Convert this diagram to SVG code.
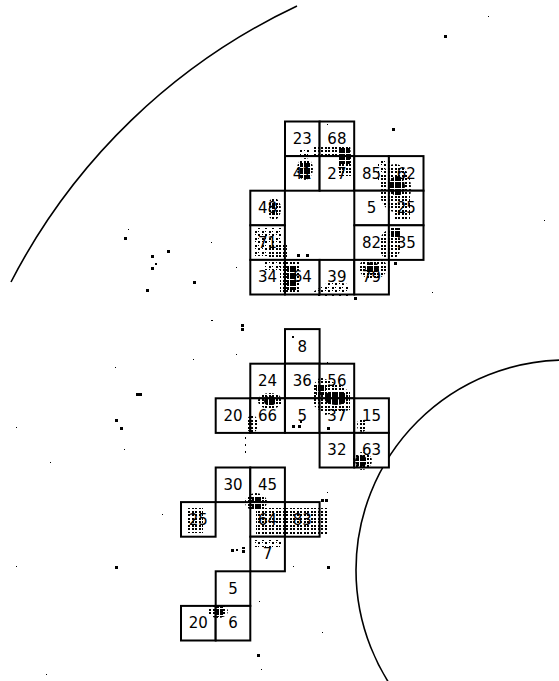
<svg xmlns="http://www.w3.org/2000/svg" width="559" height="681" viewBox="0 0 559 681">
<style>
.cell rect{fill:#fff;stroke:#000;stroke-width:2}
.cell text{font-family:"DejaVu Sans",sans-serif;font-size:15px;fill:#000;text-anchor:middle}
.arc{fill:none;stroke:#000;stroke-width:1.6}
.d{fill:#000}
pattern rect{shape-rendering:crispEdges}
#dots rect{shape-rendering:crispEdges}
</style>
<defs>
<pattern id="pS" patternUnits="userSpaceOnUse" x="181" y="122" width="7" height="7"><rect x="0" y="0" width="2" height="2" fill="#000"/><rect x="4" y="4" width="2" height="2" fill="#000"/><rect x="4" y="0" width="1" height="1" fill="#000"/><rect x="0" y="4" width="1" height="1" fill="#000"/></pattern>
<pattern id="pM" patternUnits="userSpaceOnUse" x="181" y="122" width="7" height="7"><rect x="0" y="0" width="2" height="2" fill="#000"/><rect x="4" y="0" width="2" height="2" fill="#000"/><rect x="0" y="4" width="2" height="2" fill="#000"/><rect x="4" y="4" width="2" height="2" fill="#000"/></pattern>
<pattern id="pD" patternUnits="userSpaceOnUse" x="181" y="122" width="7" height="7"><rect x="0" y="0" width="3" height="3" fill="#000"/><rect x="4" y="0" width="3" height="3" fill="#000"/><rect x="0" y="4" width="3" height="3" fill="#000"/><rect x="4" y="4" width="3" height="3" fill="#000"/></pattern>
</defs>
<rect width="559" height="681" fill="#fff"/>
<g id="arcs">
<path class="arc" d="M 11 282 A 618 618 0 0 1 297 6"/>
<circle class="arc" cx="566" cy="570" r="210"/>
</g>
<g id="connectors"/>
<g id="top-cluster">
<g id="n23" class="cell"><rect x="285" y="121.5" width="34.6" height="34.6"/><text x="302.3" y="144">23</text></g>
<g id="n68" class="cell"><rect x="319.6" y="121.5" width="34.6" height="34.6"/><text x="336.9" y="144">68</text></g>
<g id="n41" class="cell"><rect x="285" y="156.1" width="34.6" height="34.6"/><text x="302.3" y="178.6">41</text></g>
<g id="n27" class="cell"><rect x="319.6" y="156.1" width="34.6" height="34.6"/><text x="336.9" y="178.6">27</text></g>
<g id="n85" class="cell"><rect x="354.3" y="156.1" width="34.6" height="34.6"/><text x="371.6" y="178.6">85</text></g>
<g id="n62" class="cell"><rect x="388.9" y="156.1" width="34.6" height="34.6"/><text x="406.2" y="178.6">62</text></g>
<g id="n48" class="cell"><rect x="250.3" y="190.7" width="34.6" height="34.6"/><text x="267.6" y="213.2">48</text></g>
<g id="n5a" class="cell"><rect x="354.3" y="190.7" width="34.6" height="34.6"/><text x="371.6" y="213.2">5</text></g>
<g id="n25a" class="cell"><rect x="388.9" y="190.7" width="34.6" height="34.6"/><text x="406.2" y="213.2">25</text></g>
<g id="n71" class="cell"><rect x="250.3" y="225.3" width="34.6" height="34.6"/><text x="267.6" y="247.8">71</text></g>
<g id="n82" class="cell"><rect x="354.3" y="225.3" width="34.6" height="34.6"/><text x="371.6" y="247.8">82</text></g>
<g id="n35" class="cell"><rect x="388.9" y="225.3" width="34.6" height="34.6"/><text x="406.2" y="247.8">35</text></g>
<g id="n34" class="cell"><rect x="250.3" y="259.9" width="34.6" height="34.6"/><text x="267.6" y="282.4">34</text></g>
<g id="n64a" class="cell"><rect x="285" y="259.9" width="34.6" height="34.6"/><text x="302.3" y="282.4">64</text></g>
<g id="n39" class="cell"><rect x="319.6" y="259.9" width="34.6" height="34.6"/><text x="336.9" y="282.4">39</text></g>
<g id="n79" class="cell"><rect x="354.3" y="259.9" width="34.6" height="34.6"/><text x="371.6" y="282.4">79</text></g>
</g>
<g id="middle-cluster">
<g id="n8" class="cell"><rect x="285" y="329.1" width="34.6" height="34.6"/><text x="302.3" y="351.6">8</text></g>
<g id="n24" class="cell"><rect x="250.3" y="363.7" width="34.6" height="34.6"/><text x="267.6" y="386.2">24</text></g>
<g id="n36" class="cell"><rect x="285" y="363.7" width="34.6" height="34.6"/><text x="302.3" y="386.2">36</text></g>
<g id="n56" class="cell"><rect x="319.6" y="363.7" width="34.6" height="34.6"/><text x="336.9" y="386.2">56</text></g>
<g id="n20a" class="cell"><rect x="215.7" y="398.3" width="34.6" height="34.6"/><text x="233" y="420.8">20</text></g>
<g id="n66" class="cell"><rect x="250.3" y="398.3" width="34.6" height="34.6"/><text x="267.6" y="420.8">66</text></g>
<g id="n5b" class="cell"><rect x="285" y="398.3" width="34.6" height="34.6"/><text x="302.3" y="420.8">5</text></g>
<g id="n37" class="cell"><rect x="319.6" y="398.3" width="34.6" height="34.6"/><text x="336.9" y="420.8">37</text></g>
<g id="n15" class="cell"><rect x="354.3" y="398.3" width="34.6" height="34.6"/><text x="371.6" y="420.8">15</text></g>
<g id="n32" class="cell"><rect x="319.6" y="432.9" width="34.6" height="34.6"/><text x="336.9" y="455.4">32</text></g>
<g id="n63" class="cell"><rect x="354.3" y="432.9" width="34.6" height="34.6"/><text x="371.6" y="455.4">63</text></g>
</g>
<g id="bottom-cluster">
<g id="n30" class="cell"><rect x="215.7" y="467.5" width="34.6" height="34.6"/><text x="233" y="490">30</text></g>
<g id="n45" class="cell"><rect x="250.3" y="467.5" width="34.6" height="34.6"/><text x="267.6" y="490">45</text></g>
<g id="n25b" class="cell"><rect x="181" y="502.1" width="34.6" height="34.6"/><text x="198.3" y="524.6">25</text></g>
<g id="n64b" class="cell"><rect x="250.3" y="502.1" width="34.6" height="34.6"/><text x="267.6" y="524.6">64</text></g>
<g id="n83" class="cell"><rect x="285" y="502.1" width="34.6" height="34.6"/><text x="302.3" y="524.6">83</text></g>
<g id="n7" class="cell"><rect x="250.3" y="536.7" width="34.6" height="34.6"/><text x="267.6" y="559.2">7</text></g>
<g id="n5c" class="cell"><rect x="215.7" y="571.3" width="34.6" height="34.6"/><text x="233" y="593.8">5</text></g>
<g id="n20b" class="cell"><rect x="181" y="605.9" width="34.6" height="34.6"/><text x="198.3" y="628.4">20</text></g>
<g id="n6" class="cell"><rect x="215.7" y="605.9" width="34.6" height="34.6"/><text x="233" y="628.4">6</text></g>
</g>
<g id="clusters">
<rect x="299" y="150" width="12" height="5" fill="url(#pS)"/>
<polygon points="314,145 350,145 353,176 339,176 337,157 314,157" fill="url(#pM)"/>
<rect x="339" y="148" width="11" height="16" fill="url(#pD)"/>
<ellipse cx="305" cy="169" rx="8" ry="11" fill="url(#pM)"/>
<rect x="300" y="163" width="10" height="15" fill="url(#pD)"/>
<ellipse cx="395" cy="188" rx="16" ry="24" fill="url(#pM)"/>
<ellipse cx="397" cy="186" rx="8" ry="10" fill="url(#pD)"/>
<rect x="378" y="160" width="12" height="20" fill="url(#pS)"/>
<rect x="394" y="195" width="16" height="25" fill="url(#pM)"/>
<ellipse cx="390" cy="245" rx="11" ry="15" fill="url(#pM)"/>
<rect x="391" y="228" width="9" height="10" fill="url(#pD)"/>
<ellipse cx="373" cy="268" rx="14" ry="11" fill="url(#pM)"/>
<ellipse cx="372" cy="268" rx="7" ry="6" fill="url(#pD)"/>
<ellipse cx="274" cy="209" rx="7" ry="11" fill="url(#pM)"/>
<rect x="272" y="203" width="5" height="12" fill="url(#pD)"/>
<rect x="255" y="228" width="28" height="28" fill="url(#pS)"/>
<rect x="268" y="243" width="19" height="15" fill="url(#pM)"/>
<rect x="264" y="261" width="22" height="9" fill="url(#pS)"/>
<rect x="280" y="262" width="20" height="30" fill="url(#pM)"/>
<rect x="287" y="265" width="10" height="25" fill="url(#pD)"/>
<polygon points="313,292 330,281 348,284 348,297 313,297" fill="url(#pS)"/>
<ellipse cx="270" cy="401" rx="12" ry="8" fill="url(#pM)"/>
<ellipse cx="270" cy="401" rx="6" ry="5" fill="url(#pD)"/>
<ellipse cx="252" cy="424" rx="6" ry="9" fill="url(#pM)"/>
<rect x="245" y="435" width="3" height="21" fill="url(#pS)"/>
<polygon points="313,385 320,377 340,385 350,392 350,410 325,415 313,405" fill="url(#pM)"/>
<ellipse cx="336" cy="398" rx="12" ry="7" fill="url(#pD)"/>
<rect x="316" y="385" width="10" height="10" fill="url(#pD)"/>
<ellipse cx="362" cy="425" rx="5" ry="7" fill="url(#pM)"/>
<ellipse cx="362" cy="461" rx="10" ry="9" fill="url(#pM)"/>
<ellipse cx="361" cy="461" rx="6" ry="6" fill="url(#pD)"/>
<ellipse cx="256" cy="502" rx="11" ry="9" fill="url(#pM)"/>
<rect x="252" y="497" width="10" height="12" fill="url(#pD)"/>
<rect x="256" y="508" width="72" height="27" fill="url(#pM)"/>
<rect x="187" y="508" width="16" height="25" fill="url(#pM)"/>
<rect x="255" y="540" width="28" height="7" fill="url(#pS)"/>
<ellipse cx="218" cy="611" rx="10" ry="7" fill="url(#pM)"/>
<rect x="215" y="605" width="8" height="12" fill="url(#pD)"/>
</g>
<g id="dots" class="d">
<rect x="444" y="35" width="3" height="3"/><rect x="488" y="16" width="1" height="1"/>
<rect x="392" y="128" width="3" height="3"/><rect x="544" y="220" width="1" height="1"/>
<rect x="128" y="229" width="1" height="1"/><rect x="124" y="237" width="3" height="3"/>
<rect x="167" y="250" width="3" height="3"/><rect x="151" y="255" width="3" height="3"/>
<rect x="155" y="263" width="2" height="2"/><rect x="151" y="267" width="3" height="3"/>
<rect x="193" y="281" width="3" height="3"/><rect x="146" y="289" width="3" height="3"/>
<rect x="211" y="242" width="1" height="1"/><rect x="236" y="267" width="1" height="1"/>
<rect x="297" y="254" width="3" height="3"/><rect x="306" y="254" width="3" height="3"/>
<rect x="354" y="297" width="3" height="3"/><rect x="394" y="262" width="3" height="3"/>
<rect x="432" y="292" width="1" height="1"/><rect x="327" y="124" width="1" height="1"/>
<rect x="211" y="320" width="2" height="1"/><rect x="241" y="324" width="3" height="3"/>
<rect x="241" y="328" width="3" height="3"/><rect x="236" y="354" width="1" height="1"/>
<rect x="193" y="359" width="1" height="1"/><rect x="115" y="367" width="1" height="1"/>
<rect x="136" y="393" width="3" height="3"/><rect x="139" y="393" width="3" height="3"/>
<rect x="115" y="419" width="3" height="3"/><rect x="120" y="427" width="3" height="3"/>
<rect x="16" y="427" width="1" height="1"/><rect x="124" y="449" width="1" height="1"/>
<rect x="50" y="462" width="1" height="1"/><rect x="162" y="514" width="1" height="1"/>
<rect x="16" y="566" width="1" height="1"/><rect x="115" y="566" width="3" height="3"/>
<rect x="46" y="674" width="1" height="1"/>
<rect x="292" y="336" width="2" height="2"/><rect x="327" y="427" width="3" height="3"/>
<rect x="327" y="362" width="1" height="1"/>
<rect x="292" y="425" width="3" height="3"/><rect x="298" y="425" width="3" height="3"/><rect x="300" y="421" width="2" height="2"/>
<rect x="231" y="549" width="3" height="3"/><rect x="236" y="549" width="2" height="2"/>
<rect x="242" y="547" width="3" height="2"/><rect x="242" y="550" width="3" height="3"/>
<rect x="259" y="601" width="1" height="1"/><rect x="327" y="566" width="3" height="3"/>
<rect x="293" y="566" width="1" height="1"/><rect x="322" y="632" width="1" height="1"/>
<rect x="327" y="492" width="1" height="1"/><rect x="321" y="499" width="3" height="3"/>
<rect x="325" y="499" width="3" height="3"/>
<rect x="257" y="654" width="3" height="3"/><rect x="261" y="669" width="1" height="1"/>
</g>
</svg>
